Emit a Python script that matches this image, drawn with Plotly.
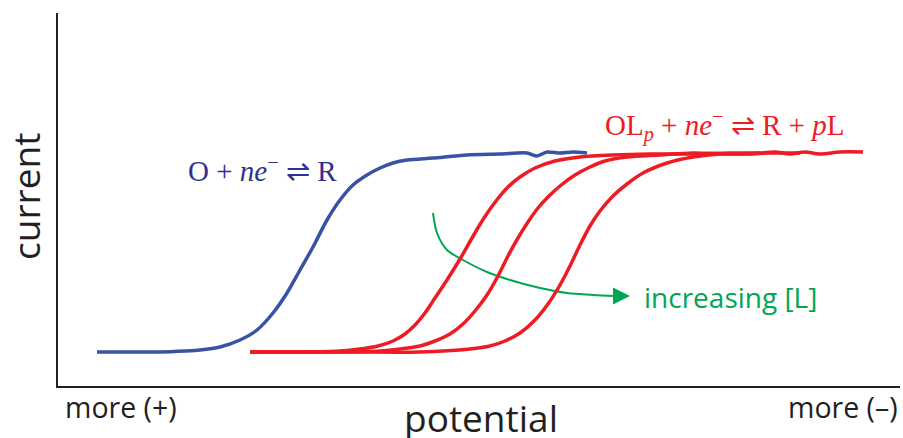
import plotly.graph_objects as go

# Data in chart units: x = potential (0 = left axis), y = current (0 = bottom axis)
blue_x = [39, 72, 102, 127, 142, 162, 182, 199, 215, 229, 242, 255, 269, 282, 295, 309, 322, 335, 349, 375, 409, 442, 469, 479, 489, 502, 515, 529]
blue_y = [34, 34, 34, 35, 36, 39, 46, 56, 73, 93, 116, 139, 166, 186, 201, 211, 218, 223, 226, 228, 231, 232, 233, 230, 234, 233, 234, 233]

red1_x = [192, 242, 282, 302, 320, 335, 347, 357, 367, 377, 389, 402, 414, 426, 438, 450, 462, 477, 497, 522, 555, 592, 632, 672, 702]
red1_y = [34, 34, 35, 37, 40, 45, 52, 61, 73, 88, 106, 127, 148, 168, 185, 199, 209, 218, 225, 229, 231, 232, 232, 233, 233]

red2_x = [192, 272, 322, 342, 362, 377, 392, 405, 417, 429, 440, 450, 460, 470, 480, 490, 502, 517, 532, 547, 569, 602, 635, 672, 712, 742]
red2_y = [34, 34, 35, 37, 40, 45, 52, 62, 75, 91, 110, 130, 148, 164, 178, 189, 200, 211, 219, 225, 229, 231, 233, 232, 233, 233]

red3_x = [192, 292, 362, 412, 432, 447, 462, 477, 490, 502, 512, 522, 532, 542, 555, 569, 585, 609, 635, 662, 692, 717, 732, 747, 762, 782, 805]
red3_y = [34, 34, 34, 37, 40, 45, 53, 66, 82, 101, 120, 141, 160, 175, 190, 202, 213, 223, 229, 232, 232, 234, 232, 234, 232, 234, 234]

arrow_x = [375, 379, 389, 405, 429, 452, 482, 509, 535, 557]
arrow_y = [173, 153, 136, 126, 114, 106, 98, 93, 91, 90]

X_RANGE = [0, 842]
Y_RANGE = [0, 373]

BLUE = "#3953a4"
BLUE_TXT = "#2e3192"
RED = "#ed1c24"
GREEN = "#00a651"
AX = "#231f20"

fig = go.Figure()
fig.add_trace(go.Scatter(x=blue_x, y=blue_y, mode="lines",
                         line=dict(color=BLUE, width=3.5, shape="spline", smoothing=0.8)))
fig.add_trace(go.Scatter(x=arrow_x, y=arrow_y, mode="lines",
                         line=dict(color=GREEN, width=2, shape="spline", smoothing=0.8)))
for rx, ry in [(red1_x, red1_y), (red2_x, red2_y), (red3_x, red3_y)]:
    fig.add_trace(go.Scatter(x=rx, y=ry, mode="lines",
                             line=dict(color=RED, width=3.5, shape="spline", smoothing=0.8)))

def px(xp):
    return (xp - 58) / 842.0

def py(yp):
    return (386 - yp) / 373.0

annotations = [
    # arrowhead
    dict(x=572, y=90, ax=553, ay=90, xref="x", yref="y", axref="x", ayref="y",
         text="", showarrow=True, arrowhead=2, arrowsize=1.7, arrowwidth=2,
         arrowcolor=GREEN),
    dict(x=px(642), y=py(297), xref="paper", yref="paper", xanchor="left", yanchor="middle",
         text="increasing [L]", showarrow=False,
         font=dict(family="Open Sans", size=28, color=GREEN)),
    dict(x=px(262), y=py(169), xref="paper", yref="paper", xanchor="center", yanchor="middle",
         text="O + <i>ne</i><sup>−</sup> ⇌ R", showarrow=False,
         font=dict(family="Liberation Serif", size=29, color=BLUE_TXT)),
    dict(x=px(724), y=py(126), xref="paper", yref="paper", xanchor="center", yanchor="middle",
         text="OL<sub><i>p</i></sub> + <i>ne</i><sup>−</sup> ⇌ R + <i>p</i>L", showarrow=False,
         font=dict(family="Liberation Serif", size=29, color=RED)),
    dict(x=px(25), y=py(197), xref="paper", yref="paper", xanchor="center", yanchor="middle",
         text="current", textangle=-90, showarrow=False,
         font=dict(family="Open Sans", size=37, color=AX)),
    dict(x=px(481), y=py(417), xref="paper", yref="paper", xanchor="center", yanchor="middle",
         text="potential", showarrow=False,
         font=dict(family="Open Sans", size=37, color=AX)),
    dict(x=px(63), y=py(407), xref="paper", yref="paper", xanchor="left", yanchor="middle",
         text="more (+)", showarrow=False,
         font=dict(family="Open Sans", size=28.5, color=AX)),
    dict(x=px(900), y=py(407), xref="paper", yref="paper", xanchor="right", yanchor="middle",
         text="more (–)", showarrow=False,
         font=dict(family="Open Sans", size=28.5, color=AX)),
]

fig.update_layout(
    width=903, height=438,
    margin=dict(l=58, r=3, t=13, b=52),
    paper_bgcolor="white", plot_bgcolor="white",
    showlegend=False,
    annotations=annotations,
    xaxis=dict(range=X_RANGE, showgrid=False, zeroline=False, showticklabels=False,
               ticks="", showline=True, linecolor=AX, linewidth=2),
    yaxis=dict(range=Y_RANGE, showgrid=False, zeroline=False, showticklabels=False,
               ticks="", showline=True, linecolor=AX, linewidth=2),
)

fig.write_html("out.html", config={"displayModeBar": False},
               post_script="document.body.style.margin='0px';document.body.style.overflow='hidden';")
